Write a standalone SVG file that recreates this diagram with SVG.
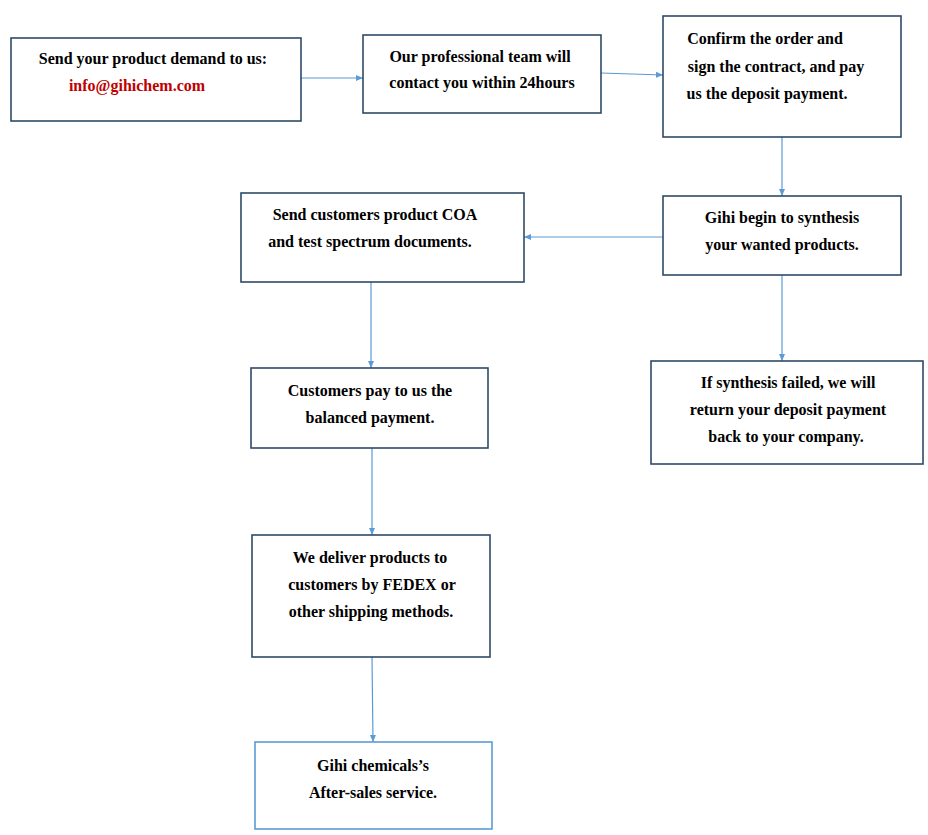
<svg xmlns="http://www.w3.org/2000/svg" width="928" height="835" viewBox="0 0 928 835">
<style>
.b{fill:#fff;stroke:#2E4A66;stroke-width:1.6}
.l{fill:#fff;stroke:#5B9BD5;stroke-width:1.6}
text{font-family:"Liberation Serif","Times New Roman",serif;font-weight:bold;font-size:16px;fill:#000;text-anchor:middle}
.c line{stroke:#5B9BD5;stroke-width:1.2;marker-end:url(#a)}
</style>
<defs><marker id="a" markerWidth="8" markerHeight="8" refX="7" refY="4" orient="auto" markerUnits="userSpaceOnUse"><path d="M0,1 L7,4 L0,7 Z" fill="#5B9BD5"/></marker></defs>
<rect width="928" height="835" fill="#fff"/>
<g class="c">
<line x1="301" y1="78" x2="363" y2="78"/>
<line x1="601" y1="73" x2="663" y2="75"/>
<line x1="782" y1="137" x2="782" y2="196"/>
<line x1="663" y1="237" x2="524" y2="237"/>
<line x1="782" y1="275" x2="782" y2="361"/>
<line x1="371" y1="282" x2="371" y2="368"/>
<line x1="372" y1="448" x2="372" y2="535"/>
<line x1="372" y1="657" x2="373" y2="742"/>
</g>
<g id="n1"><rect class="b" x="11" y="38" width="290" height="83"/><text x="153" y="64">Send your product demand to us:</text><text x="137" y="91" style="fill:#C00000">info@gihichem.com</text></g>
<g id="n2"><rect class="b" x="363" y="35" width="238" height="78"/><text x="480" y="62">Our professional team will</text><text x="482" y="88">contact you within 24hours</text></g>
<g id="n3"><rect class="b" x="663" y="16" width="238" height="121"/><text x="765" y="44">Confirm the order and</text><text x="776" y="72">sign the contract, and pay</text><text x="767" y="99">us the deposit payment.</text></g>
<g id="n4"><rect class="b" x="663" y="196" width="238" height="79"/><text x="782" y="223">Gihi begin to synthesis</text><text x="782" y="250">your wanted products.</text></g>
<g id="n5"><rect class="b" x="241" y="193" width="283" height="89"/><text x="375" y="220">Send customers product COA</text><text x="370" y="247">and test spectrum documents.</text></g>
<g id="n6"><rect class="b" x="651" y="361" width="272" height="103"/><text x="788" y="388">If synthesis failed, we will</text><text x="788" y="415">return your deposit payment</text><text x="786" y="442">back to your company.</text></g>
<g id="n7"><rect class="b" x="251" y="368" width="237" height="80"/><text x="370" y="396">Customers pay to us the</text><text x="370" y="423">balanced payment.</text></g>
<g id="n8"><rect class="b" x="252" y="535" width="238" height="122"/><text x="370" y="563">We deliver products to</text><text x="372" y="590">customers by FEDEX or</text><text x="371" y="617">other shipping methods.</text></g>
<g id="n9"><rect class="l" x="255" y="742" width="237" height="87"/><text x="373" y="771">Gihi chemicals’s</text><text x="373" y="798">After-sales service.</text></g>
</svg>
